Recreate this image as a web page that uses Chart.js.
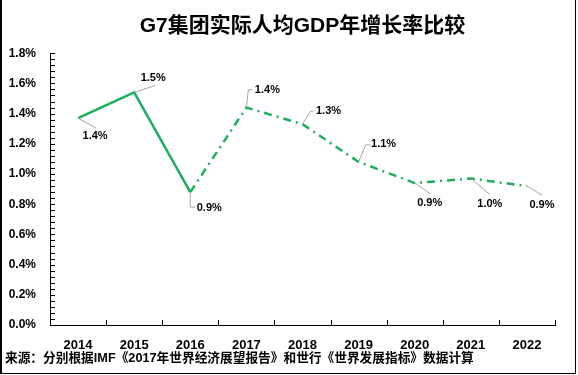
<!DOCTYPE html>
<html>
<head>
<meta charset="utf-8">
<script src="https://cdn.jsdelivr.net/npm/chart.js@4.4.1/dist/chart.umd.min.js"></script>
<style>
  body { margin: 0; background: #fff; }
  canvas { display: block; }
</style>
</head>
<body>
<canvas id="chartGdp" width="578" height="375"></canvas>
<script>
const years = ['2014', '2015', '2016', '2017', '2018', '2019', '2020', '2021', '2022'];
const growth = [1.37, 1.54, 0.88, 1.44, 1.33, 1.08, 0.94, 0.97, 0.92];
const yTicks = [0, 0.2, 0.4, 0.6, 0.8, 1.0, 1.2, 1.4, 1.6, 1.8];
const source = '来源：分别根据IMF《2017年世界经济展望报告》和世行《世界发展指标》数据计算';

// where each value label sits relative to its point, and the leader line to it
const labelPos = [
    { dx: 17, dy: 18, lead: [[0, 0], [18, 10]] },
    { dx: 19, dy: -14, lead: [[0, 0], [21, -7]] },
    { dx: 19, dy: 16, lead: [[0, 0], [0, 15], [5, 15]] },
    { dx: 21, dy: -18, lead: [[0, 0], [2, -18], [6, -18]] },
    { dx: 26, dy: -13, lead: [[0, 0], [8, -13], [11, -13]] },
    { dx: 25, dy: -18, lead: [[0, 0], [7, -17], [12, -17]] },
    { dx: 15, dy: 20, lead: [[0, 0], [16, 11]] },
    { dx: 19, dy: 25, lead: [[0, 0], [19, 16]] },
    { dx: 15, dy: 19, lead: [[0, 0], [15, 9]] }
];

const fontFamily = '"Liberation Sans", "Noto Sans CJK SC", sans-serif';
Chart.defaults.font.family = fontFamily;
Chart.defaults.color = '#000';

const axisTicks = {
    id: 'axisTicks',
    afterDatasetsDraw(chart) {
        const { ctx, scales: { x, y } } = chart;
        ctx.save();
        ctx.strokeStyle = '#000';
        ctx.lineWidth = 1;
        ctx.beginPath();
        for (let k = 0; k <= 45; k++) {
            const py = Math.round(y.getPixelForValue(k * 0.04)) + 0.5;
            ctx.moveTo(x.left, py);
            ctx.lineTo(x.left + 5, py);
        }
        for (let i = 0; i < years.length; i++) {
            const px = Math.round(x.getPixelForValue(i + 0.5)) + 0.5;
            ctx.moveTo(px, y.bottom);
            ctx.lineTo(px, y.bottom - 5);
        }
        ctx.stroke();
        ctx.restore();
    }
};

const valueLabels = {
    id: 'valueLabels',
    afterDatasetsDraw(chart) {
        const { ctx } = chart;
        const meta = chart.getDatasetMeta(0);
        ctx.save();
        meta.data.forEach((pt, i) => {
            const p = labelPos[i];
            ctx.strokeStyle = '#a6a6a6';
            ctx.lineWidth = 1;
            ctx.beginPath();
            p.lead.forEach(([lx, ly], j) => {
                if (j === 0) ctx.moveTo(pt.x + lx, pt.y + ly);
                else ctx.lineTo(pt.x + lx, pt.y + ly);
            });
            ctx.stroke();
            ctx.fillStyle = '#000';
            ctx.font = 'bold 11px ' + fontFamily;
            ctx.textAlign = 'center';
            ctx.textBaseline = 'middle';
            ctx.fillText(growth[i].toFixed(1) + '%', pt.x + p.dx, pt.y + p.dy);
        });
        ctx.restore();
    }
};

const frame = {
    id: 'frame',
    beforeDraw(chart) {
        const { ctx } = chart;
        ctx.save();
        ctx.fillStyle = '#fff';
        ctx.fillRect(0, 0, chart.width, chart.height);
        ctx.restore();
    },
    afterDraw(chart) {
        const { ctx } = chart;
        ctx.save();
        ctx.fillStyle = '#000';
        ctx.fillRect(0, 0, 2, 374);
        ctx.fillRect(575, 0, 1, 374);
        ctx.fillRect(0, 373, 576, 1);
        ctx.font = 'bold 12.7px ' + fontFamily;
        ctx.textAlign = 'left';
        ctx.textBaseline = 'middle';
        ctx.fillText(source, 5, 358);
        ctx.restore();
    }
};

const ctx = document.getElementById('chartGdp').getContext('2d');
const myChart = new Chart(ctx, {
    type: 'line',
    data: {
        labels: years,
        datasets: [{
            label: '人均GDP年增长率',
            data: growth,
            borderColor: '#1EAF5C',
            borderWidth: 2.5,
            pointRadius: 0,
            fill: false,
            tension: 0,
            segment: {
                borderDash: c => c.p0DataIndex >= 2 ? [8, 5, 2, 5] : undefined
            }
        }]
    },
    options: {
        responsive: false,
        animation: false,
        layout: { padding: { left: 0, right: 23, top: 0, bottom: 0 } },
        plugins: {
            legend: { display: false },
            tooltip: { enabled: false },
            title: {
                display: true,
                fullSize: false,
                text: 'G7集团实际人均GDP年增长率比较',
                font: { size: 21, weight: 'bold' },
                padding: { top: 14, bottom: 14 }
            }
        },
        scales: {
            x: {
                offset: true,
                grid: { display: false, drawTicks: false },
                border: { display: true, color: '#000', width: 1 },
                ticks: { font: { size: 13, weight: 'bold' }, padding: 13, maxRotation: 0 },
                afterFit: s => { s.height = 50; }
            },
            y: {
                min: 0,
                max: 1.8,
                afterBuildTicks: s => { s.ticks = yTicks.map(v => ({ value: v })); },
                grid: { display: false, drawTicks: false },
                border: { display: true, color: '#000', width: 1 },
                ticks: {
                    font: { size: 12, weight: 'bold' },
                    padding: 14,
                    callback: v => v.toFixed(1) + '%'
                },
                afterFit: s => { s.width = 50; }
            }
        }
    },
    plugins: [frame, axisTicks, valueLabels]
});
</script>
</body>
</html>
